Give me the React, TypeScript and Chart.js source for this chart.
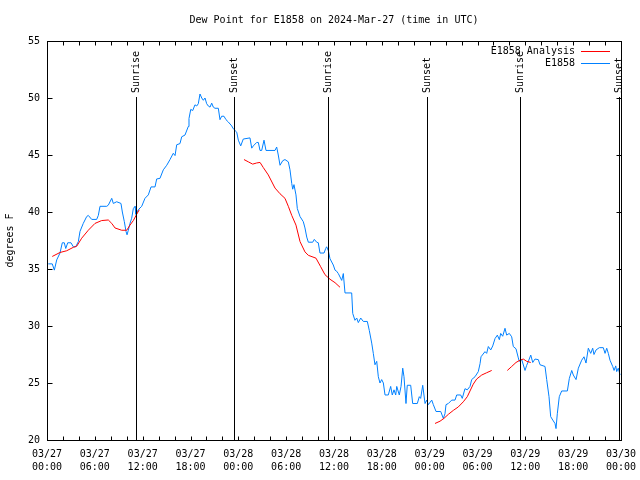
import React, { useEffect, useRef } from "react";
import { Chart, registerables } from "chart.js";

Chart.register(...registerables);

const FONT = "'DejaVu Sans Mono', 'Liberation Mono', monospace";

const titleText = "Dew Point for E1858 on 2024-Mar-27 (time in UTC)";
const yAxisTitle = "degrees F";

// x tick labels every 6 hours from 2024-03-27 00:00 UTC
const xTickLabels = [
  ["03/27", "00:00"], ["03/27", "06:00"], ["03/27", "12:00"], ["03/27", "18:00"],
  ["03/28", "00:00"], ["03/28", "06:00"], ["03/28", "12:00"], ["03/28", "18:00"],
  ["03/29", "00:00"], ["03/29", "06:00"], ["03/29", "12:00"], ["03/29", "18:00"],
  ["03/30", "00:00"],
];

// Sunrise / sunset markers (hours since start)
const sunHours = [11.16, 23.46, 35.25, 47.67, 59.33, 71.75];
const sunLabels = ["Sunrise", "Sunset", "Sunrise", "Sunset", "Sunrise", "Sunset"];

// Observations: E1858
const obsHours = [
  0.16, 0.66, 0.92, 1.22, 1.63, 1.92, 2.17, 2.35, 2.6, 3.01, 3.3, 3.6, 3.93, 4.14, 4.55, 4.98, 5.18, 5.61, 6.23, 6.44,
  6.65, 7.49, 7.69, 8.12, 8.32, 8.74, 9.28, 9.45, 9.7, 9.91, 10.04, 10.2, 10.41, 10.62, 10.83, 11.04, 11.16, 11.45, 11.88, 12.29,
  12.71, 13.05, 13.55, 13.76, 14.17, 14.59, 15.02, 15.43, 15.84, 16.06, 16.27, 16.68, 16.9, 17.31, 17.72, 17.81, 18.03, 18.28, 18.56, 18.78,
  18.98, 19.19, 19.41, 19.61, 19.82, 20.03, 20.23, 20.45, 20.66, 20.86, 21.07, 21.49, 21.7, 21.91, 22.2, 22.45, 22.74, 23.17, 23.37, 23.8,
  24.0, 24.3, 24.62, 25.46, 25.68, 25.88, 26.3, 26.51, 26.72, 26.93, 27.22, 27.47, 28.6, 28.81, 29.01, 29.23, 29.57, 29.85, 30.27, 30.48,
  30.7, 30.82, 30.98, 31.23, 31.4, 31.74, 32.15, 32.36, 32.58, 32.78, 33.33, 33.53, 33.83, 34.03, 34.24, 34.75, 34.96, 35.08, 35.29, 35.5,
  35.91, 36.13, 36.34, 36.54, 36.97, 37.17, 37.38, 38.22, 38.35, 38.63, 38.85, 39.05, 39.35, 39.68, 40.18, 40.43, 40.73, 40.93, 41.14, 41.36,
  41.56, 41.77, 41.98, 42.19, 42.4, 42.81, 43.11, 43.31, 43.53, 43.74, 43.87, 44.19, 44.41, 44.62, 44.78, 45.03, 45.19, 45.62, 45.87, 46.45,
  46.7, 46.87, 47.13, 47.42, 47.63, 47.83, 48.26, 48.46, 48.8, 49.39, 49.71, 49.92, 50.05, 50.34, 50.77, 51.18, 51.39, 51.89, 52.09, 52.43,
  52.72, 53.06, 53.27, 53.69, 54.1, 54.32, 54.44, 54.94, 55.15, 55.36, 55.66, 55.91, 56.2, 56.49, 56.74, 56.91, 57.16, 57.45, 57.66, 57.99,
  58.29, 58.49, 58.83, 59.12, 59.24, 59.55, 59.96, 60.17, 60.38, 60.68, 60.93, 61.21, 61.63, 61.84, 62.47, 62.68, 62.97, 63.18, 63.44, 63.72,
  63.85, 64.01, 64.26, 64.56, 65.27, 65.52, 65.82, 66.02, 66.36, 66.65, 67.07, 67.36, 67.61, 67.9, 68.2, 68.45, 68.61, 68.87, 69.28, 69.78,
  70.0, 70.21, 70.41, 70.62, 70.96, 71.13, 71.34, 71.46, 71.66, 71.88,
];
const obsValues = [
  35.45, 35.45, 34.9, 35.8, 36.4, 37.3, 37.3, 36.8, 37.3, 37.3, 36.95, 36.95, 37.4, 38.3, 39.0, 39.6, 39.7, 39.35, 39.35, 39.7,
  40.5, 40.5, 40.6, 41.2, 40.75, 40.9, 40.75, 40.0, 39.15, 38.3, 38.0, 38.4, 39.0, 39.45, 40.3, 40.5, 39.8, 40.2, 40.5, 41.2,
  41.5, 42.2, 42.2, 42.9, 42.95, 43.7, 44.1, 44.6, 45.15, 44.95, 45.9, 46.0, 46.6, 46.75, 47.5, 48.2, 49.0, 48.9, 49.4, 49.3,
  49.5, 50.35, 50.0, 49.8, 50.0, 49.5, 49.3, 49.2, 49.55, 49.2, 49.1, 49.1, 48.1, 48.4, 48.4, 48.1, 47.9, 47.55, 47.3, 47.0,
  46.3, 45.8, 46.4, 46.5, 45.6, 45.8, 46.1, 46.1, 45.4, 45.4, 46.3, 45.4, 45.4, 45.7, 45.0, 44.1, 44.5, 44.6, 44.4, 43.7,
  42.5, 42.0, 42.4, 41.5, 40.3, 39.6, 39.15, 38.6, 37.8, 37.35, 37.35, 37.6, 37.35, 37.3, 36.4, 36.4, 36.8, 36.95, 36.6, 35.9,
  35.35, 34.9, 34.8, 34.6, 34.0, 34.6, 32.9, 32.9, 31.1, 30.5, 30.7, 30.3, 30.7, 30.4, 30.4, 29.6, 28.5, 27.6, 26.6, 26.9,
  25.55, 25.0, 25.3, 25.0, 23.95, 23.95, 24.7, 23.95, 24.4, 23.95, 24.7, 23.95, 24.7, 26.3, 25.55, 23.2, 24.8, 24.8, 23.2, 23.2,
  23.8, 23.65, 24.8, 23.2, 23.5, 23.1, 23.5, 23.1, 22.5, 22.5, 21.9, 22.3, 23.1, 23.2, 23.5, 23.5, 23.95, 23.95, 23.65, 24.5,
  24.4, 24.7, 25.3, 25.55, 26.0, 26.7, 27.3, 27.75, 27.6, 28.2, 27.9, 28.25, 28.9, 29.2, 28.8, 29.35, 29.1, 29.8, 29.2, 29.35,
  29.05, 28.2, 28.0, 27.2, 26.9, 27.05, 26.1, 26.55, 26.9, 27.45, 26.8, 27.1, 27.05, 26.6, 26.45, 25.3, 23.8, 22.05, 21.75, 21.45,
  21.0, 22.3, 23.8, 24.3, 24.3, 25.4, 26.1, 25.7, 25.3, 26.3, 27.0, 27.3, 26.75, 28.05, 27.6, 28.05, 27.5, 27.9, 28.1, 28.1,
  27.6, 28.05, 27.6, 27.0, 26.45, 26.1, 26.5, 26.0, 26.3, 25.7,
];

// Analysis: E1858 Analysis (null = gap)
const anaHours = [
  0.66, 1.63, 2.47, 3.3, 3.73, 4.35, 5.18, 6.02, 6.86, 7.69, 8.12, 8.53, 9.37, 10.0, 10.41, 10.83, 11.25, 11.58,
  18.0,
  24.71, 25.25, 25.8, 26.3, 26.72, 27.13, 27.76, 28.6, 29.23, 29.85, 30.27, 30.7, 31.23, 31.74, 32.36, 32.78, 33.74, 34.33, 34.87, 35.5, 36.13, 36.75,
  42.0,
  48.67, 49.3, 49.8, 50.34, 50.97, 51.59, 52.22, 52.72, 53.06, 53.47, 53.9, 54.53, 55.15, 55.78,
  56.8,
  57.74, 58.29, 58.83, 59.33, 59.75, 60.17, 60.68,
];
const anaValues = [
  36.1, 36.45, 36.6, 36.9, 37.0, 37.7, 38.4, 39.0, 39.25, 39.3, 39.0, 38.6, 38.4, 38.4, 38.85, 39.25, 39.8, 40.2,
  null,
  44.6, 44.4, 44.2, 44.3, 44.35, 43.9, 43.25, 42.1, 41.6, 41.2, 40.5, 39.7, 38.85, 37.4, 36.5, 36.2, 35.95, 35.2, 34.5, 34.1, 33.8, 33.4,
  null,
  21.45, 21.65, 21.9, 22.25, 22.6, 22.9, 23.35, 23.8, 24.3, 24.9, 25.35, 25.7, 25.9, 26.1,
  null,
  26.1, 26.45, 26.8, 27.0, 27.1, 26.9, 26.8,
];

const seriesNames = ["E1858 Analysis", "E1858"];
const seriesColors = ["#ff0000", "#0080ff"];

const decorPlugin = {
  id: "decor",
  afterDraw(chart: any) {
    const ctx = chart.ctx;
    const area = chart.chartArea;
    const xs = chart.scales.x;
    const ys = chart.scales.y;
    ctx.save();
    ctx.fillStyle = "#000";
    ctx.strokeStyle = "#000";
    ctx.lineWidth = 1;
    ctx.font = `10px ${FONT}`;

    // title
    ctx.textAlign = "center";
    ctx.textBaseline = "middle";
    ctx.fillText(titleText, (area.left + area.right) / 2, 20);

    // y title
    ctx.save();
    ctx.translate(10, (area.top + area.bottom) / 2);
    ctx.rotate(-Math.PI / 2);
    ctx.fillText(yAxisTitle, 0, 0);
    ctx.restore();

    const L = Math.round(area.left) + 0.5;
    const R = Math.round(area.right) + 0.5;
    const T = Math.round(area.top) + 0.5;
    const B = Math.round(area.bottom) + 0.5;

    // ticks
    ctx.beginPath();
    for (let v = 20; v <= 55; v += 5) {
      const y = Math.round(ys.getPixelForValue(v)) + 0.5;
      ctx.moveTo(L, y); ctx.lineTo(L + 5, y);
      ctx.moveTo(R, y); ctx.lineTo(R - 5, y);
    }
    for (let h = 0; h <= 72; h += 2) {
      const x = Math.round(xs.getPixelForValue(h)) + 0.5;
      ctx.moveTo(x, B); ctx.lineTo(x, B - 4);
      ctx.moveTo(x, T); ctx.lineTo(x, T + 4);
    }
    ctx.stroke();

    // sunrise / sunset lines
    const topY = Math.round(ys.getPixelForValue(50.1));
    ctx.beginPath();
    sunHours.forEach((h) => {
      const x = Math.round(xs.getPixelForValue(h)) + 0.5;
      ctx.moveTo(x, topY);
      ctx.lineTo(x, B);
    });
    ctx.stroke();
    sunHours.forEach((h, i) => {
      const x = Math.round(xs.getPixelForValue(h)) + 0.5;
      ctx.save();
      ctx.translate(x, topY - 4);
      ctx.rotate(-Math.PI / 2);
      ctx.textAlign = "left";
      ctx.textBaseline = "middle";
      ctx.fillText(sunLabels[i], 0, 0);
      ctx.restore();
    });

    // frame
    ctx.strokeRect(L, T, R - L, B - T);

    // legend
    ctx.textAlign = "right";
    ctx.textBaseline = "middle";
    const rows = [51, 63];
    seriesNames.forEach((name, i) => {
      ctx.fillStyle = "#000";
      ctx.fillText(name, 575, rows[i]);
      ctx.strokeStyle = seriesColors[i];
      ctx.beginPath();
      ctx.moveTo(581, rows[i] + 0.5);
      ctx.lineTo(610, rows[i] + 0.5);
      ctx.stroke();
    });
    ctx.restore();
  },
};

export default function App() {
  const ref = useRef<HTMLCanvasElement>(null);
  useEffect(() => {
    const anaData = anaHours.map((h, i) => ({ x: h, y: anaValues[i] }));
    const obsData = obsHours.map((h, i) => ({ x: h, y: obsValues[i] }));
    const chart = new Chart(ref.current as HTMLCanvasElement, {
      type: "line",
      data: {
        datasets: [
          {
            label: seriesNames[0],
            data: anaData as any,
            borderColor: seriesColors[0],
            borderWidth: 1,
            pointRadius: 0,
            spanGaps: false,
            tension: 0,
          },
          {
            label: seriesNames[1],
            data: obsData as any,
            borderColor: seriesColors[1],
            borderWidth: 1,
            pointRadius: 0,
            tension: 0,
          },
        ],
      },
      options: {
        animation: false,
        responsive: false,
        devicePixelRatio: 1,
        layout: { padding: { top: 41, right: 19, left: 0, bottom: 0 } },
        plugins: {
          legend: { display: false },
          title: { display: false },
          tooltip: { enabled: false },
        },
        scales: {
          x: {
            type: "linear",
            min: 0,
            max: 72,
            grid: { display: false, drawTicks: false },
            border: { display: false },
            ticks: {
              stepSize: 6,
              autoSkip: false,
              maxRotation: 0,
              minRotation: 0,
              padding: 8,
              color: "#000",
              font: { family: FONT, size: 10, lineHeight: 1.3 },
              callback: (v: any) => xTickLabels[Math.round(Number(v) / 6)],
            },
            afterFit: (s: any) => {
              s.height = 40;
              s.paddingLeft = 0;
              s.paddingRight = 0;
            },
          },
          y: {
            min: 20,
            max: 55,
            grid: { display: false, drawTicks: false },
            border: { display: false },
            ticks: {
              stepSize: 5,
              padding: 7,
              color: "#000",
              font: { family: FONT, size: 10 },
            },
            afterFit: (s: any) => {
              s.width = 47;
              s.paddingTop = 0;
              s.paddingBottom = 0;
            },
          },
        },
      },
      plugins: [decorPlugin],
    });
    return () => chart.destroy();
  }, []);
  return (
    <div style={{ position: "fixed", left: 0, top: 0, width: 640, height: 480, background: "#fff" }}>
      <canvas ref={ref} width={640} height={480} style={{ display: "block" }} />
    </div>
  );
}
